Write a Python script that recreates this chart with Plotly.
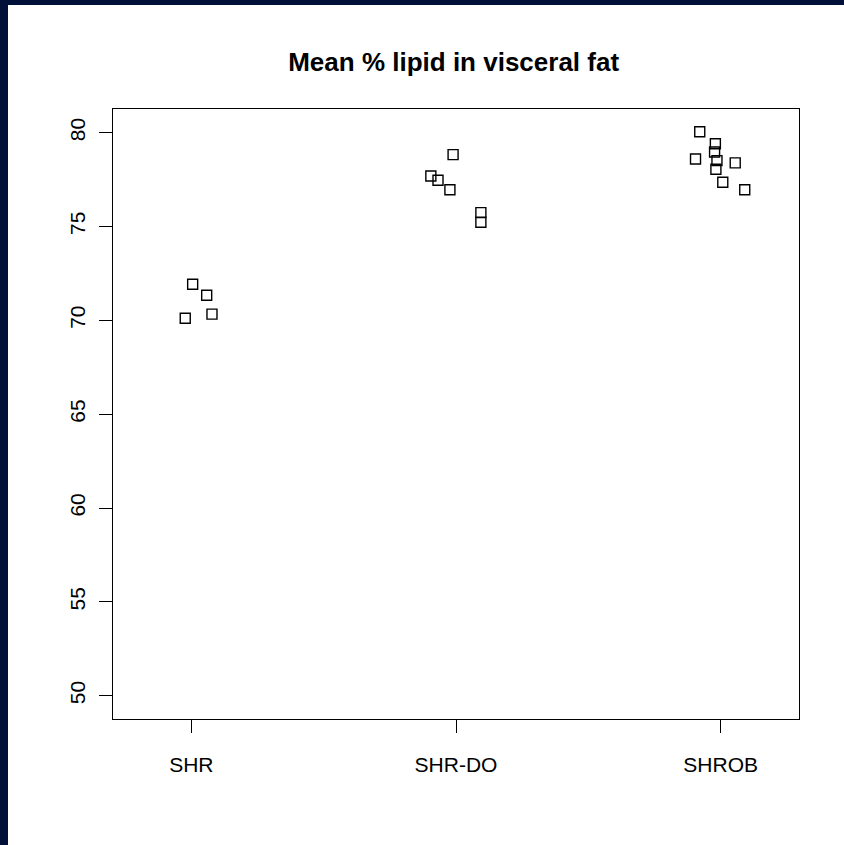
import plotly.graph_objects as go

# Groups and their measured % lipid values
groups = ["SHR", "SHR-DO", "SHROB"]
shr = [71.92, 71.34, 70.11, 70.33]
shr_do = [78.83, 77.69, 77.46, 76.96, 75.74, 75.23]
shrob = [80.05, 79.41, 78.97, 78.60, 78.51, 78.39, 78.05, 77.36, 76.96]

# Horizontal jitter applied to each point in the strip chart
jit_shr = [0.005, 0.058, -0.023, 0.078]
jit_shr_do = [-0.011, -0.095, -0.068, -0.023, 0.094, 0.094]
jit_shrob = [-0.079, -0.020, -0.023, -0.095, -0.014, 0.055, -0.018, 0.008, 0.091]

y_ticks = [50, 55, 60, 65, 70, 75, 80]

values = [shr, shr_do, shrob]
jitters = [jit_shr, jit_shr_do, jit_shrob]

xs, ys = [], []
for i, (vals, jit) in enumerate(zip(values, jitters)):
    for v, j in zip(vals, jit):
        xs.append(i + 1 + j)
        ys.append(v)

fig = go.Figure()
fig.add_trace(go.Scatter(
    x=xs, y=ys, mode="markers",
    marker=dict(symbol="square-open", size=10, color="black",
                line=dict(width=1.4, color="black")),
    showlegend=False, hoverinfo="y",
))

FONT = "Liberation Sans, Arial, Helvetica, sans-serif"

fig.update_layout(
    width=844, height=845,
    margin=dict(l=113, r=45, t=109, b=126),
    paper_bgcolor="white", plot_bgcolor="white",
    font=dict(family=FONT, color="black", size=21),
    title=dict(text="<b>Mean % lipid in visceral fat</b>",
               x=0.5375, xanchor="center", y=1 - 62 / 845, yanchor="middle",
               font=dict(family=FONT, size=26, color="black")),
    xaxis=dict(range=[0.704, 3.296], tickvals=[1, 2, 3], ticktext=groups,
               showgrid=False, zeroline=False, showline=True, mirror=True,
               linecolor="black", linewidth=1.4,
               ticks="outside", ticklen=13, tickcolor="black", tickwidth=1,
               ticklabelstandoff=14),
    yaxis=dict(range=[48.76, 81.26], tickvals=y_ticks,
               showgrid=False, zeroline=False, showline=True, mirror=True,
               linecolor="black", linewidth=1.4,
               ticks="outside", ticklen=13, tickcolor="black", tickwidth=1,
               tickangle=-90, ticklabelstandoff=5),
    shapes=[
        # dark frame strips along the left and top edges of the page
        dict(type="rect", xref="paper", yref="paper", layer="below",
             x0=-113 / 686, x1=(8 - 113) / 686, y0=-0.3, y1=1.3,
             fillcolor="#001038", line=dict(width=0)),
        dict(type="rect", xref="paper", yref="paper", layer="below",
             x0=-0.3, x1=1.3, y0=1 + 104 / 610, y1=1.3,
             fillcolor="#001038", line=dict(width=0)),
    ],
)

fig.write_html("out.html")
